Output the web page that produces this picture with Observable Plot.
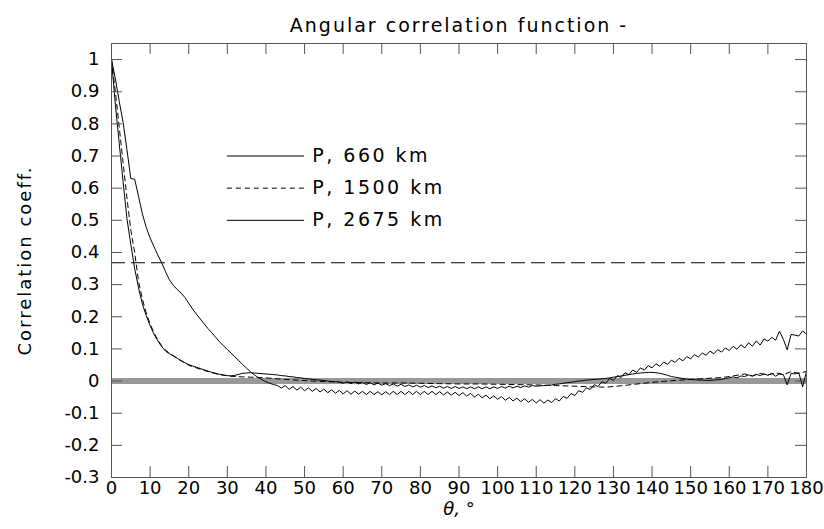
<!DOCTYPE html>
<html><head><meta charset="utf-8">
<script src="https://cdn.jsdelivr.net/npm/d3@7"></script>
<script src="https://cdn.jsdelivr.net/npm/@observablehq/plot@0.6"></script>
<style>body{margin:0;background:#fff;}</style>
</head><body><div id="chart"></div>
<script>
const titleText = "Angular correlation function -";
const yLabelText = "Correlation coeff.";
const xLabelText = "θ, °";
const seriesNames = ["P, 660 km", "P, 1500 km", "P, 2675 km"];
const xTicks = [0,10,20,30,40,50,60,70,80,90,100,110,120,130,140,150,160,170,180];
const yTicks = [-0.3,-0.2,-0.1,0,0.1,0.2,0.3,0.4,0.5,0.6,0.7,0.8,0.9,1];
const efold = 0.368;

// P, 660 km : one value per degree, 0..180
const corr660 = [
1.000,0.860,0.740,0.620,0.505,0.425,0.350,0.290,0.240,0.203,
0.172,0.146,0.125,0.107,0.093,0.085,0.078,0.071,0.064,0.057,
0.051,0.047,0.043,0.039,0.035,0.031,0.027,0.024,0.021,0.019,
0.017,0.016,0.018,0.021,0.024,0.025,0.026,0.025,0.024,0.023,
0.022,0.021,0.020,0.019,0.017,0.016,0.014,0.013,0.011,0.010,
0.008,0.007,0.005,0.004,0.003,0.002,0.000,-0.001,-0.002,-0.003,
-0.007,-0.002,-0.008,-0.003,-0.009,-0.004,-0.011,-0.005,-0.012,-0.006,
-0.013,-0.008,-0.014,-0.009,-0.016,-0.010,-0.017,-0.012,-0.018,-0.013,
-0.019,-0.014,-0.020,-0.015,-0.021,-0.016,-0.022,-0.017,-0.023,-0.017,
-0.023,-0.018,-0.024,-0.018,-0.024,-0.018,-0.024,-0.018,-0.024,-0.018,
-0.023,-0.017,-0.022,-0.016,-0.021,-0.016,-0.020,-0.015,-0.019,-0.014,
-0.016,-0.015,-0.014,-0.013,-0.012,-0.010,-0.009,-0.007,-0.005,-0.004,
-0.002,0.000,0.001,0.003,0.004,0.005,0.006,0.007,0.008,0.010,
0.012,0.014,0.016,0.018,0.020,0.022,0.024,0.025,0.026,0.027,
0.027,0.026,0.024,0.021,0.018,0.014,0.012,0.010,0.008,0.006,
0.005,0.004,0.003,0.003,0.002,0.002,0.003,0.004,0.005,0.008,
0.010,0.013,0.010,0.016,0.014,0.019,0.015,0.021,0.017,0.022,
0.018,0.024,0.015,0.022,0.020,-0.012,0.024,0.022,0.026,-0.018,0.030
];

// P, 1500 km : sampled angles and values
const theta1500 = [0,1,2,3,4,5,6,7,8,9,10,11,12,13,14,15,16,17,18,19,20,22,24,26,28,30,32,34,36,38,40,44,48,52,56,60,65,70,75,80,85,90,95,100,105,110,115,120,124,128,131,134,137,140,143,146,150,154,158,160,162,164,166,168,170,172,174,176,178,180];
const corr1500 = [1.000,0.900,0.790,0.680,0.570,0.470,0.400,0.310,0.255,0.212,0.178,0.150,0.128,0.110,0.096,0.087,0.079,0.071,0.063,0.056,0.049,0.041,0.033,0.026,0.020,0.016,0.014,0.013,0.012,0.011,0.010,0.006,0.003,0.000,-0.002,-0.004,-0.005,-0.006,-0.006,-0.007,-0.008,-0.009,-0.009,-0.010,-0.011,-0.012,-0.014,-0.016,-0.018,-0.019,-0.016,-0.012,-0.008,-0.004,-0.001,0.002,0.005,0.008,0.011,0.014,0.018,0.022,0.016,0.024,0.019,0.026,0.020,0.029,0.024,0.030];

// P, 2675 km : one value per degree, 0..180
const corr2675 = [
1.000,0.940,0.870,0.805,0.720,0.630,0.628,0.575,0.520,0.478,
0.445,0.418,0.392,0.368,0.340,0.315,0.298,0.285,0.274,0.260,
0.242,0.224,0.208,0.193,0.178,0.163,0.150,0.136,0.122,0.110,
0.098,0.087,0.075,0.063,0.051,0.040,0.029,0.019,0.011,0.004,
-0.002,-0.007,-0.011,-0.014,-0.022,-0.014,-0.026,-0.017,-0.028,-0.019,
-0.030,-0.021,-0.032,-0.023,-0.034,-0.025,-0.036,-0.027,-0.038,-0.029,
-0.040,-0.030,-0.041,-0.031,-0.041,-0.032,-0.042,-0.032,-0.042,-0.033,
-0.043,-0.033,-0.042,-0.032,-0.042,-0.032,-0.042,-0.032,-0.042,-0.032,
-0.042,-0.032,-0.042,-0.032,-0.042,-0.033,-0.043,-0.034,-0.044,-0.035,
-0.045,-0.036,-0.047,-0.038,-0.050,-0.041,-0.052,-0.044,-0.055,-0.046,
-0.057,-0.048,-0.060,-0.051,-0.062,-0.053,-0.064,-0.055,-0.066,-0.057,
-0.068,-0.058,-0.069,-0.059,-0.067,-0.055,-0.062,-0.048,-0.054,-0.039,
-0.045,-0.030,-0.035,-0.021,-0.026,-0.011,-0.017,-0.002,-0.007,0.008,
0.002,0.017,0.011,0.026,0.020,0.034,0.027,0.041,0.034,0.048,
0.041,0.054,0.046,0.059,0.052,0.065,0.058,0.071,0.063,0.076,
0.069,0.082,0.075,0.087,0.080,0.093,0.085,0.098,0.090,0.103,
0.095,0.108,0.099,0.113,0.103,0.119,0.108,0.125,0.112,0.131,
0.124,0.136,0.127,0.155,0.130,0.097,0.145,0.143,0.140,0.156,0.146
];

const d660 = corr660.map((v, i) => ({theta: i, r: v}));
const d1500 = corr1500.map((v, i) => ({theta: theta1500[i], r: v}));
const d2675 = corr2675.map((v, i) => ({theta: i, r: v}));

// layout
const W = 824, H = 529;
const mL = 111, mR = 18, mT = 43, mB = 52;
const FW = W - mL - mR, FH = H - mT - mB;
const TL = 11;
const axisColor = "#555";
const dashes = [null, "5,4", null];
const legendX1 = 30, legendX2 = 50, legendTextX = 52;
const legendY = [0.7, 0.6, 0.5];

const yFmt = d => d === 0 ? "0" : d.toFixed(1).replace(/\.0$/, "");

const legendMarks = seriesNames.map((name, i) =>
  Plot.ruleY([legendY[i]], {x1: legendX1, x2: legendX2, y: d => d, stroke: "#000", strokeWidth: 1, strokeDasharray: dashes[i]})
);

const chart = Plot.plot({
  width: W, height: H,
  marginLeft: mL, marginRight: mR, marginTop: mT, marginBottom: mB,
  style: {fontFamily: "DejaVu Sans", fontSize: "18px", background: "#fff", color: "#000"},
  x: {domain: [0, 180], label: null},
  y: {domain: [-0.3, 1.05], label: null},
  marks: [
    Plot.ruleY([0], {stroke: "#999", strokeWidth: 6}),
    Plot.ruleY([efold], {stroke: "#000", strokeWidth: 1, strokeDasharray: "14,6"}),
    Plot.line(d660, {x: "theta", y: "r", stroke: "#000", strokeWidth: 1}),
    Plot.line(d1500, {x: "theta", y: "r", stroke: "#000", strokeWidth: 1, strokeDasharray: dashes[1]}),
    Plot.line(d2675, {x: "theta", y: "r", stroke: "#000", strokeWidth: 1}),
    ...legendMarks,
    Plot.text(seriesNames, {x: legendTextX, y: (d, i) => legendY[i], text: d => d, textAnchor: "start", fontSize: 19, ariaLabel: () => "legendtext"}),
    Plot.frame({stroke: axisColor}),
    Plot.tickX(xTicks, {x: d => d, insetTop: FH - TL, stroke: axisColor}),
    Plot.tickX(xTicks, {x: d => d, insetBottom: FH - TL, stroke: axisColor}),
    Plot.tickY(yTicks, {y: d => d, insetRight: FW - TL, stroke: axisColor}),
    Plot.tickY(yTicks, {y: d => d, insetLeft: FW - TL, stroke: axisColor}),
    Plot.axisX(xTicks, {tickSize: 0, tickPadding: 4, fontSize: 18, tickFormat: d => String(d), label: null}),
    Plot.axisY(yTicks, {tickSize: 0, tickPadding: 12, fontSize: 18, tickFormat: yFmt, label: null}),
    Plot.text([titleText], {frameAnchor: "top", dy: -25, fontSize: 19, text: d => d, ariaLabel: () => "title"}),
    Plot.text([yLabelText], {frameAnchor: "left", textAnchor: "middle", dx: -86, rotate: -90, fontSize: 18, text: d => d, ariaLabel: () => "ylabel"}),
    Plot.text([xLabelText], {frameAnchor: "bottom", dy: 37, fontSize: 18, text: d => d, ariaLabel: () => "xlabel"})
  ]
});

const svg = d3.select(chart);
svg.selectAll('text[aria-label="title"]').style("letter-spacing", "2px");
svg.selectAll('text[aria-label="ylabel"]').style("letter-spacing", "2px");
svg.selectAll('text[aria-label="legendtext"]').style("letter-spacing", "2.5px");
svg.selectAll('text[aria-label="xlabel"]').style("font-style", "italic");
document.getElementById("chart").appendChild(chart);
</script>
</body></html>
